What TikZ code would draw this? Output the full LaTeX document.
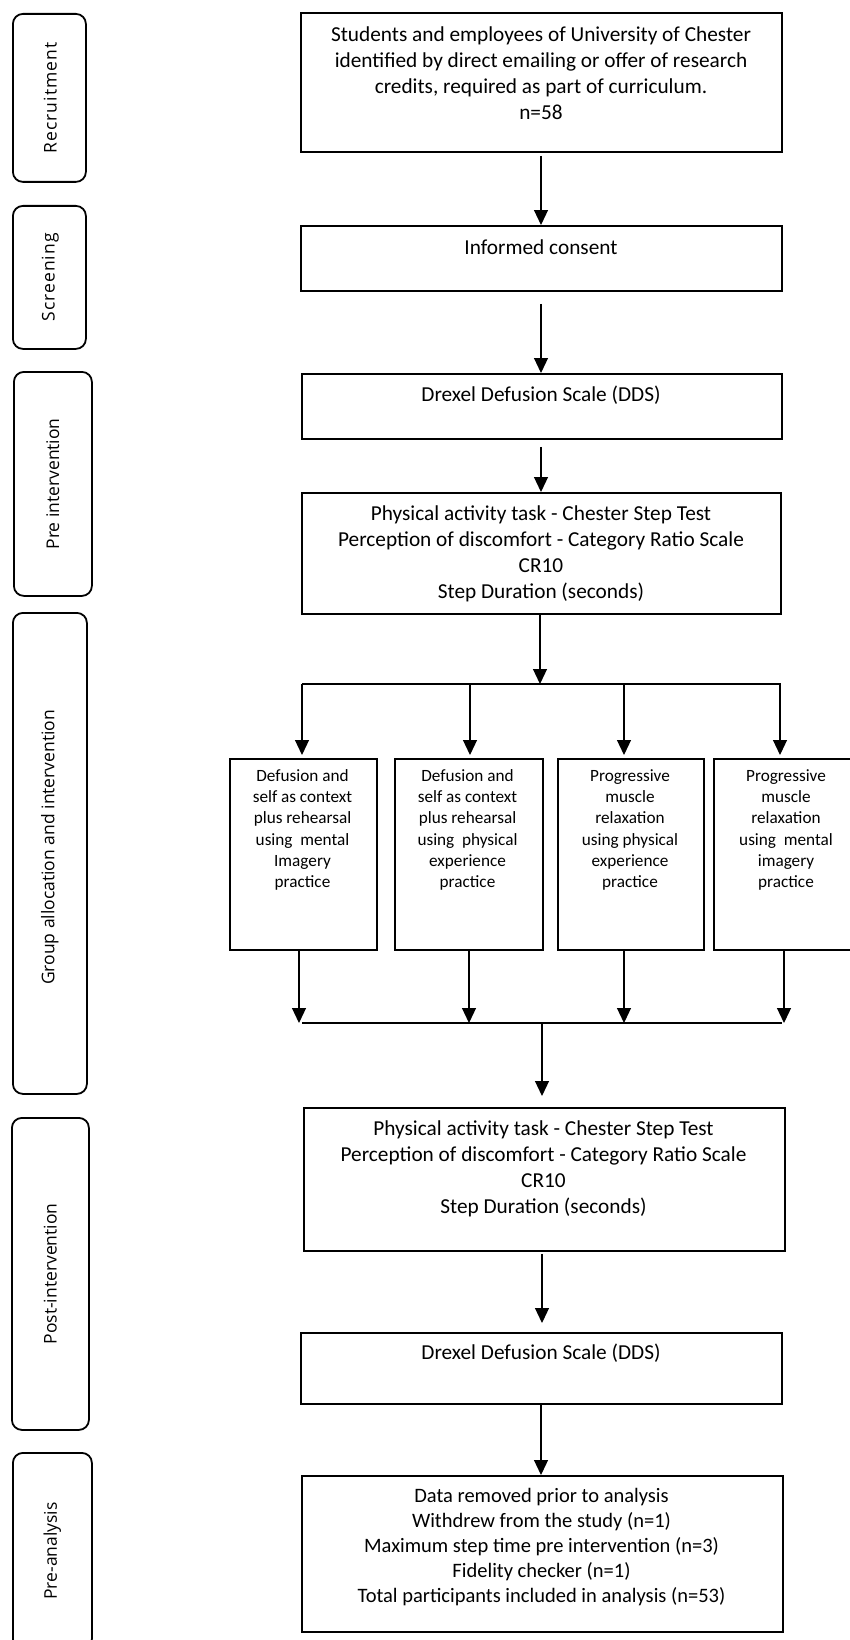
\documentclass[tikz,border=0pt]{standalone}
\usepackage{fontspec}
\setmainfont{Carlito}
\newfontfamily\labfont{Open Sans}
\usetikzlibrary{arrows.meta,positioning}
\begin{document}
\begin{tikzpicture}[x=1pt,y=-1pt,
  frame/.style={draw=black,line width=1.8pt,inner sep=0pt,anchor=north west},
  phase/.style={draw=black,line width=1.8pt,rounded corners=10pt,inner sep=0pt,anchor=north west},
  phasetext/.style={rotate=90,font=\labfont\fontsize{17.5}{20}\selectfont,inner sep=0pt},
  maintext/.style={align=center,font=\fontsize{21.3}{26}\selectfont,inner sep=0pt},
  smalltext/.style={align=center,font=\fontsize{20.5}{24.8}\selectfont,inner sep=0pt},
  grouptext/.style={align=center,font=\fontsize{17.2}{21.2}\selectfont,inner sep=0pt},
  arr/.style={line width=1.2pt,-{Triangle[width=14pt,length=15pt]}},
  ln/.style={line width=1.2pt}
]
\useasboundingbox (0,0) rectangle (850,1640);
\clip (0,0) rectangle (850,1640);

% phase boxes
\node[phase,minimum width=73pt,minimum height=168pt] (pR) at (12,13) {};
\node[phasetext] (tR) at ([xshift=1pt]pR.center) {\addfontfeature{LetterSpace=6}Recruitment};
\node[phase,minimum width=73pt,minimum height=143pt] (pS) at (12,205) {};
\node[phasetext] (tS) at ([xshift=1pt]pS.center) {\addfontfeature{LetterSpace=6}Screening};
\node[phase,minimum width=78pt,minimum height=224pt] (pP) at (13,371) {};
\node[phasetext] (tP) at (pP.center) {Pre intervention};
\node[phase,minimum width=74pt,minimum height=481pt] (pG) at (12,612) {};
\node[phasetext] (tG) at ([yshift=6pt]pG.center) {Group allocation and intervention};
\node[phase,minimum width=77pt,minimum height=312pt] (pPo) at (11,1117) {};
\node[phasetext] (tPo) at (pPo.center) {Post-intervention};
\node[phase,minimum width=79pt,minimum height=196pt] (pA) at (12,1452) {};
\node[phasetext] (tA) at (pA.center) {Pre-analysis};

% main boxes
\node[frame,minimum width=481pt,minimum height=139pt] (b1) at (300,12) {};
\node[maintext] (t1) at (541,73.5) {Students and employees of University of Chester\\identified by direct emailing or offer of research\\credits, required as part of curriculum.\\n=58};
\node[frame,minimum width=481pt,minimum height=65pt] (b2) at (300,225) {};
\node[maintext] (t2) at (541,247) {Informed consent};
\node[frame,minimum width=480pt,minimum height=65pt] (b3) at (301,373) {};
\node[maintext] (t3) at (541,395) {Drexel Defusion Scale (DDS)};
\node[frame,minimum width=479pt,minimum height=121pt] (b4) at (301,492) {};
\node[maintext] (t4) at (541,554) {Physical activity task - Chester Step Test\\Perception of discomfort - Category Ratio Scale\\CR10\\Step Duration (seconds)};

% group boxes
\node[frame,minimum width=147pt,minimum height=191pt] (gA) at (229,758) {};
\node[grouptext] (tgA) at (302.5,830) {Defusion and\\self as context\\plus rehearsal\\using\ \ mental\\Imagery\\practice};
\node[frame,minimum width=148pt,minimum height=191pt] (gB) at (394,758) {};
\node[grouptext] (tgB) at (467.5,830) {Defusion and\\self as context\\plus rehearsal\\using\ \ physical\\experience\\practice};
\node[frame,minimum width=146pt,minimum height=191pt] (gC) at (557,758) {};
\node[grouptext] (tgC) at (630,830) {Progressive\\muscle\\relaxation\\using physical\\experience\\practice};
\node[frame,minimum width=146pt,minimum height=191pt] (gD) at (713,758) {};
\node[grouptext] (tgD) at (786,830) {Progressive\\muscle\\relaxation\\using\ \ mental\\imagery\\practice};

% lower boxes
\node[frame,minimum width=481pt,minimum height=143pt] (b5) at (303,1107) {};
\node[maintext] (t5) at (543.5,1169) {Physical activity task - Chester Step Test\\Perception of discomfort - Category Ratio Scale\\CR10\\Step Duration (seconds)};
\node[frame,minimum width=481pt,minimum height=71pt] (b6) at (300,1332) {};
\node[maintext] (t6) at (541,1353) {Drexel Defusion Scale (DDS)};
\node[frame,minimum width=481pt,minimum height=156pt] (b7) at (301,1475) {};
\node[smalltext] (t7) at (541.5,1547) {Data removed prior to analysis\\Withdrew from the study (n=1)\\Maximum step time pre intervention (n=3)\\Fidelity checker (n=1)\\Total participants included in analysis (n=53)};

% connectors
\draw[arr,shorten <=3pt] (b1.south -| 541,0) -- (b2.north -| 541,0);
\draw[arr,shorten <=12pt] (b2.south -| 541,0) -- (b3.north -| 541,0);
\draw[arr,shorten <=7pt] (b3.south -| 541,0) -- (b4.north -| 541,0);

% split
\coordinate (jl) at (302,684);
\coordinate (jr) at (781,684);
\coordinate (jm) at (540,684);
\coordinate (ta) at (302,684);
\coordinate (tb) at (470,684);
\coordinate (tc) at (624,684);
\coordinate (td) at (780,684);
\draw[arr] (b4.south -| jm) -- (jm);
\draw[ln] (jl) -- (jr);
\draw[arr,shorten >=3pt] (ta) -- (ta |- gA.north);
\draw[arr,shorten >=3pt] (tb) -- (tb |- gB.north);
\draw[arr,shorten >=3pt] (tc) -- (tc |- gC.north);
\draw[arr,shorten >=3pt] (td) -- (td |- gD.north);

% merge
\coordinate (ba) at (299,1023);
\coordinate (bb) at (469,1023);
\coordinate (bc) at (624,1023);
\coordinate (bd) at (784,1023);
\coordinate (ml) at (302,1023);
\coordinate (mr) at (782,1023);
\coordinate (bm) at (542,1023);
\draw[arr] (gA.south -| ba) -- (ba);
\draw[arr] (gB.south -| bb) -- (bb);
\draw[arr] (gC.south -| bc) -- (bc);
\draw[arr] (gD.south -| bd) -- (bd);
\draw[ln] (ml) -- (mr);
\draw[arr,shorten >=11pt] (bm) -- (bm |- b5.north);

\draw[arr,shorten <=2pt,shorten >=9pt] (b5.south -| 542,0) -- (b6.north -| 542,0);
\draw[arr] (b6.south -| 541,0) -- (b7.north -| 541,0);
\end{tikzpicture}
\end{document}
